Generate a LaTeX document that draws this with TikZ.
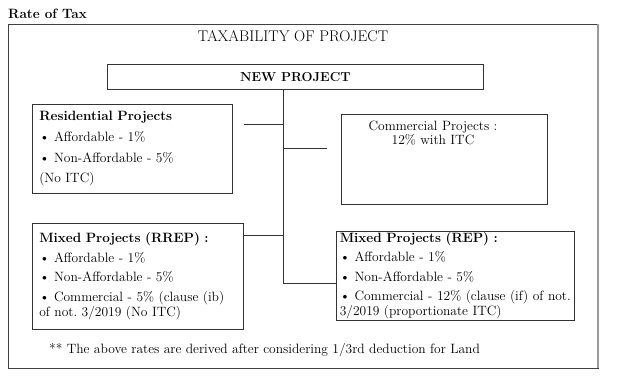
\documentclass[tikz,border=0pt]{standalone}
\usepackage{tikz}
\frenchspacing
\tikzset{
  box/.style={draw=black!80, line width=0.6pt, anchor=north west, inner xsep=7pt, inner ysep=0pt, align=left, font=\fontsize{13.5}{15}\selectfont},
  link/.style={draw=black!80, line width=0.6pt}
}
\begin{document}
\begin{tikzpicture}[x=1pt,y=-1pt]
\useasboundingbox (0,0) rectangle (617,382);
% outer frame
\draw[black!75, line width=0.7pt] (8,24) rectangle (598,368);
\draw[black!40, line width=2pt] (598,24) -- (598,368);
\node[anchor=base west, inner sep=0pt, font=\bfseries\fontsize{13.5}{15}\selectfont] (rate) at (8,19) {Rate of Tax};
\node[font=\fontsize{15.5}{17}\selectfont] (title) at (293,36) {TAXABILITY OF PROJECT};
\node[draw=black!80, line width=0.6pt, anchor=north west, minimum width=376, minimum height=25, inner sep=0pt, font=\bfseries\fontsize{13}{15}\selectfont] (np) at (107,64) {NEW PROJECT};
% project boxes
\node[box, text width=186, minimum height=89] (res) at (32,104) {\textbf{Residential Projects}\\[6pt]
  \textbullet\ Affordable - 1\%\\[6pt]
  \textbullet\ Non-Affordable - 5\%\\[5pt]
  (No ITC)};
\node[draw=black!80, line width=0.6pt, anchor=north west, minimum width=206, minimum height=90] (com) at (341,114) {};
\node[anchor=north, align=center, inner sep=0pt, font=\fontsize{13.5}{13.5}\selectfont] (comtxt) at (433,121) {Commercial Projects :\\ 12\% with ITC};
\node[box, text width=197, minimum height=106] (rrep) at (32,223) {\textbf{Mixed Projects (RREP) :}\\[4.5pt]
  \textbullet\ Affordable - 1\%\\[4.5pt]
  \textbullet\ Non-Affordable - 5\%\\[4.5pt]
  \textbullet\ Commercial - 5\% (clause (ib)\\
  of not. 3/2019 (No ITC)};
\node[box, inner xsep=3.5pt, text width=231, minimum height=89] (rep) at (336,231) {\textbf{Mixed Projects (REP) :}\\[4.5pt]
  \textbullet\ Affordable - 1\%\\[4.5pt]
  \textbullet\ Non-Affordable - 5\%\\[4.5pt]
  \textbullet\ Commercial - 12\% (clause (if) of not.\\
  3/2019 (proportionate ITC)};
\node[anchor=west, inner sep=0pt, font=\fontsize{13.5}{15}\selectfont] (note) at (49,350) {** The above rates are derived after considering 1/3rd deduction for Land};
% connectors
\coordinate (jres) at (283,124);
\coordinate (jcom) at (283,148);
\coordinate (jrrep) at (283,235);
\coordinate (jrep) at (283,283);
\draw[link] (np.south -| jrep) -- (jrep) -- (jrep -| rep.west);
\draw[link, shorten <=11pt] (jres -| res.east) -- (jres);
\draw[link, shorten >=14pt] (jcom) -- (jcom -| com.west);
\draw[link] (jrrep -| rrep.east) -- (jrrep);
\end{tikzpicture}
\end{document}
